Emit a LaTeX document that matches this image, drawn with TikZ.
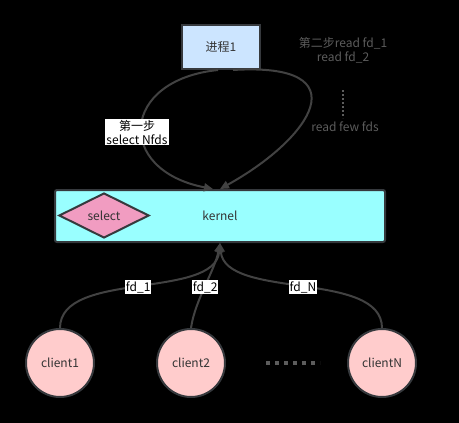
\documentclass[tikz,border=0pt]{standalone}
\usepackage{fontspec}
\setmainfont{Noto Sans CJK SC}
\usetikzlibrary{positioning,arrows.meta,shapes.geometric}
\definecolor{edgegray}{RGB}{66,66,66}
\definecolor{bordergray}{RGB}{54,57,61}
\definecolor{procblue}{RGB}{204,229,255}
\definecolor{kerncyan}{RGB}{153,255,255}
\definecolor{selpink}{RGB}{241,156,193}
\definecolor{clipink}{RGB}{255,204,204}
\definecolor{notegray}{RGB}{92,92,92}
\tikzstyle{pbox}=[rectangle, draw=bordergray, fill=procblue, line width=2pt, minimum width=78pt, minimum height=44pt, text=black!80, font=\fontsize{12}{14}\selectfont]
\tikzstyle{kbox}=[rectangle, rounded corners=2pt, draw=bordergray, fill=kerncyan, line width=2pt, minimum width=330pt, minimum height=52pt, text=black!80, font=\fontsize{12}{14}\selectfont]
\tikzstyle{sbox}=[diamond, aspect=2, draw=bordergray, fill=selpink, line width=2pt, minimum width=90pt, minimum height=45pt, inner sep=0pt, text=black!80, font=\fontsize{12}{14}\selectfont]
\tikzstyle{cnode}=[circle, draw=bordergray, fill=clipink, line width=2pt, minimum size=68pt, inner sep=0pt, text=black!80, font=\fontsize{12}{14}\selectfont]
\tikzstyle{pline}=[-{Triangle[length=9pt,width=8pt]}, draw=edgegray, line width=2pt]
\tikzstyle{lbl}=[fill=white, inner sep=1pt, text=black, align=center, font=\fontsize{12}{14}\selectfont]
\tikzstyle{note}=[text=notegray, align=center, font=\fontsize{12}{14}\selectfont]

\begin{document}
\begin{tikzpicture}[x=1pt,y=-1pt]
\fill[black] (0,0) rectangle (459,423);
\useasboundingbox (0,0) rectangle (459,423);
\node (PROC) [pbox] at (221,47) {进程1};
\node (KERN) [kbox] at (220,216) {kernel};
\node (SEL) [sbox] at (104,215.5) {select};
\node (C1) [cnode] at (60,363) {client1};
\node (C2) [cnode] at (191,363) {client2};
\node (CN) [cnode] at (382,363) {clientN};
\node (STEP2) [note] at (343,50) {第二步read fd\_1\\read fd\_2};
\node (FEW) [note] at (345,127) {read few fds};
 \draw[notegray, line width=2pt, dash pattern=on 2pt off 2pt] (STEP2.south) ++(0,-24pt) -- ++(0,-28pt);
 \draw[notegray, line width=3.5pt, dash pattern=on 3.5pt off 5.5pt] (266,363) -- (320,363);
 \draw[pline] ([xshift=-3pt]PROC.south) .. controls (120,80) and (115,170) .. node[lbl, xshift=-5pt, yshift=-6pt] {第一步\\select Nfds} ([xshift=-7pt]KERN.north);
 \draw[pline] ([xshift=12pt]PROC.south) .. controls (362,62) and (312,138) .. (KERN.north);
 \draw[pline] (C1.north) .. controls (60,270) and (215,300) .. node[lbl, yshift=-2pt] {fd\_1} (KERN.south);
 \draw[pline] (C2.north) .. controls (195,300) and (215,270) .. node[lbl, yshift=-2pt] {fd\_2} (KERN.south);
 \draw[pline] (CN.north) .. controls (382,270) and (225,300) .. node[lbl, yshift=-2pt] {fd\_N} (KERN.south);
\end{tikzpicture}
\end{document}
